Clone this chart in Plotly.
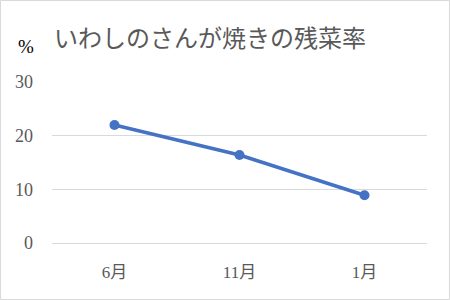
import plotly.graph_objects as go

categories = ["6月", "11月", "1月"]
values = [22.0, 16.4, 8.9]
y_ticks = [0, 10, 20, 30]
title_text = "いわしのさんが焼きの残菜率"
unit_text = "%"

W, H = 450, 300
L, R, T, B = 52, 23, 82, 57
pw, ph = W - L - R, H - T - B

def px_x(p):
    return (p - L) / pw

def px_y(p):
    return (H - B - p) / ph

FONT = "Liberation Serif, Noto Sans CJK JP"

fig = go.Figure()
fig.add_trace(go.Scatter(
    x=categories, y=values, mode="lines+markers",
    line=dict(color="#4472C4", width=3.5),
    marker=dict(color="#4472C4", size=10),
    hoverinfo="skip",
))

fig.update_layout(
    width=W, height=H,
    margin=dict(l=L, r=R, t=T, b=B),
    paper_bgcolor="white", plot_bgcolor="white",
    showlegend=False,
    font=dict(family=FONT, color="#595959", size=14),
    xaxis=dict(
        showgrid=False, zeroline=False, showline=False, ticks="",
        tickfont=dict(size=17, color="#595959"),
        ticklabelstandoff=17,
        range=[-0.5, 2.5],
    ),
    yaxis=dict(
        range=[0, 30], tickvals=y_ticks,
        showgrid=True, gridcolor="#d9d9d9", gridwidth=1,
        zeroline=True, zerolinecolor="#d9d9d9", zerolinewidth=1,
        showline=False, ticks="",
        tickfont=dict(size=18, color="#595959"),
        ticklabelstandoff=18,
    ),
    annotations=[
        dict(text=title_text, xref="paper", yref="paper",
             x=px_x(52), y=px_y(39), xanchor="left", yanchor="middle",
             showarrow=False, font=dict(size=24, color="#595959", family=FONT)),
        dict(text=unit_text, xref="paper", yref="paper",
             x=px_x(26), y=px_y(47), xanchor="center", yanchor="middle",
             showarrow=False, font=dict(size=19, color="#000000", family=FONT)),
    ],
    shapes=[
        dict(type="rect", xref="paper", yref="paper",
             x0=px_x(0.5), x1=px_x(449.5), y0=px_y(299.5), y1=px_y(0.5),
             line=dict(color="#d9d9d9", width=1), layer="below"),
    ],
)

fig.write_html("out.html")
